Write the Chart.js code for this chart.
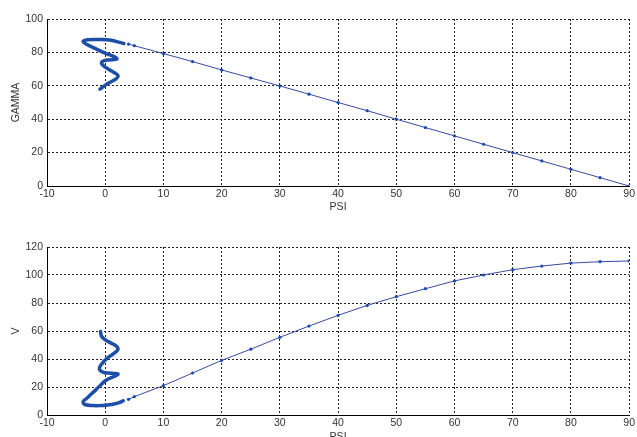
<!DOCTYPE html>
<html>
<head>
<meta charset="utf-8">
<script src="https://cdn.jsdelivr.net/npm/chart.js@4.4.0/dist/chart.umd.min.js"></script>
<style>
    html, body { margin: 0; padding: 0; background: #fff; overflow: hidden; width: 637px; height: 437px; }
    canvas { position: absolute; left: 0; }
    #gammaChart { top: 0; }
    #vChart { top: 228px; }
</style>
</head>
<body>
<canvas id="gammaChart" width="637" height="213"></canvas>
<canvas id="vChart" width="637" height="215"></canvas>
<script>
// x axis (PSI) ticks, shared by both plots
const psiTicks = [-10, 0, 10, 20, 30, 40, 50, 60, 70, 80, 90];
const gammaTicks = [0, 20, 40, 60, 80, 100];
const vTicks = [0, 20, 40, 60, 80, 100, 120];

// thin line with markers
const psiLine = [4, 5, 10, 15, 20, 25, 30, 35, 40, 45, 50, 55, 60, 65, 70, 75, 80, 85, 90];
const gammaLine = [85, 84, 79.3, 74.5, 69.5, 64.7, 59.9, 55, 50, 45.1, 40, 35, 30, 25, 20, 15, 10, 5, 0];
const vLine = [11.2, 13.1, 21, 30, 39, 47, 55.5, 63.5, 71.2, 78.3, 84.5, 90.2, 95.8, 100, 103.8, 106.4, 108.5, 109.5, 110];

// thick wiggle near psi = 0
const psiSpiralTop = [-0.9, 0.5, 1.8, 2.2, 1.5, 0.3, -0.6, -0.5, 0.5, 2, 1.5, 0, -1.5, -3, -3.8, -3, -1, 1, 2.5, 3.2];
const gammaSpiral = [58, 61.5, 64, 66, 68, 70.5, 73, 74.5, 75.5, 76, 77.5, 79.5, 82, 84.5, 86.5, 87.6, 87.7, 87.3, 86, 85.3];

const psiSpiralBottom = [-0.8, -0.6, 0.5, 1.8, 2.2, 1.5, 0.3, -0.6, -1, -0.3, 1, 2.2, 1.5, 0.2, -1.5, -3, -3.8, -3.5, -2, -0.9, 0.5, 1.5, 2.5, 3.1];
const vSpiral = [59.6, 56, 52.5, 49.5, 47, 44, 40.5, 36.5, 33, 30.5, 29.8, 29.3, 27.5, 25, 18.5, 12.5, 9.5, 7.5, 6.7, 6.7, 7.2, 7.8, 9, 10.2];

function toPoints(xs, ys) {
    return xs.map((x, i) => ({ x: x, y: ys[i] }));
}

function makeChart(id, yTitle, yTicks, lineY, spiralX, spiralY, topPad, xAxisHeight) {
    const tickFont = { family: 'Arial, "Liberation Sans", sans-serif', size: 10.5 };
    const titleFont = { family: 'Arial, "Liberation Sans", sans-serif', size: 10.5 };
    return new Chart(document.getElementById(id), {
        type: 'scatter',
        data: {
            datasets: [{
                data: toPoints(spiralX, spiralY),
                showLine: true,
                borderColor: '#1d4fa8',
                borderWidth: 3.5,
                tension: 0.4,
                pointRadius: 0,
                borderCapStyle: 'round',
                borderJoinStyle: 'round'
            }, {
                data: toPoints(psiLine, lineY),
                showLine: true,
                borderColor: '#3a4a9e',
                borderWidth: 1,
                pointRadius: 1.6,
                pointBackgroundColor: '#1a48b8',
                pointBorderColor: '#1a48b8',
                pointBorderWidth: 0
            }]
        },
        options: {
            responsive: false,
            animation: false,
            layout: { padding: { top: topPad, right: 5, left: 0, bottom: 0 } },
            plugins: { legend: { display: false }, tooltip: { enabled: false } },
            scales: {
                x: {
                    type: 'linear',
                    min: psiTicks[0],
                    max: psiTicks[psiTicks.length - 1],
                    afterBuildTicks: s => { s.ticks = psiTicks.map(v => ({ value: v })); },
                    afterFit: s => { s.height = xAxisHeight; },
                    grid: { color: '#222', lineWidth: 1, drawTicks: false },
                    border: { display: true, color: '#000', width: 1, dash: [2, 2] },
                    ticks: { color: '#333', font: tickFont, padding: 2, maxRotation: 0 },
                    title: { display: true, text: 'PSI', color: '#333', font: titleFont, padding: { top: 0, bottom: 0 } }
                },
                y: {
                    type: 'linear',
                    min: yTicks[0],
                    max: yTicks[yTicks.length - 1],
                    afterBuildTicks: s => { s.ticks = yTicks.map(v => ({ value: v })); },
                    afterFit: s => { s.width = 47; },
                    grid: { color: '#222', lineWidth: 1, drawTicks: false },
                    border: { display: true, color: '#000', width: 1, dash: [2, 2] },
                    ticks: { color: '#333', font: tickFont, padding: 4 },
                    title: { display: true, text: yTitle, color: '#333', font: titleFont, padding: { top: 10, bottom: 0 } }
                }
            }
        }
    });
}

makeChart('gammaChart', 'GAMMA', gammaTicks, gammaLine, psiSpiralTop, gammaSpiral, 19, 27);
makeChart('vChart', 'V', vTicks, vLine, psiSpiralBottom, vSpiral, 19, 28);
</script>
</body>
</html>
